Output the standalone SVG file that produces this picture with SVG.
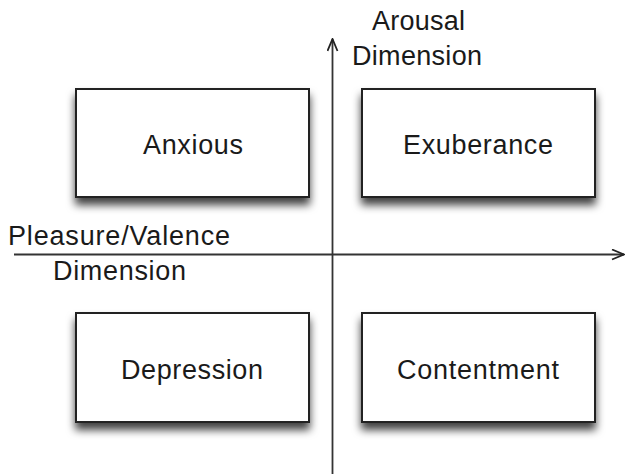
<svg xmlns="http://www.w3.org/2000/svg" width="626" height="474" viewBox="0 0 626 474">
  <defs>
    <filter id="shadow" x="-10%" y="-10%" width="120%" height="140%">
      <feDropShadow dx="0" dy="7" stdDeviation="4.5" flood-color="#000" flood-opacity="0.75"/>
    </filter>
    <marker id="open-arrow" viewBox="0 0 14 12" refX="13" refY="6" markerWidth="14" markerHeight="12" markerUnits="userSpaceOnUse" orient="auto">
      <path d="M1,1 L13,6 L1,11" fill="none" stroke="#222" stroke-width="1.8"/>
    </marker>
  </defs>
  <style>
    .box { fill: #fff; stroke: #222; stroke-width: 2; filter: url(#shadow); }
    .label { font-family: "Liberation Sans", Arial, sans-serif; font-size: 27px; fill: #1a1a1a; }
    .axis { stroke: #333; stroke-width: 1.8; fill: none; marker-end: url(#open-arrow); }
  </style>
  <rect width="626" height="474" fill="#fff"/>

  <g id="connectors">
    <line class="axis" x1="332.5" y1="474" x2="332.5" y2="39"/>
    <line class="axis" x1="14" y1="254.5" x2="624" y2="254.5"/>
  </g>

  <g id="axis-labels">
    <text class="label" x="372" y="30" textLength="93" lengthAdjust="spacing">Arousal</text>
    <text class="label" x="352" y="65" textLength="130" lengthAdjust="spacing">Dimension</text>
    <text class="label" x="8" y="245" textLength="222" lengthAdjust="spacing">Pleasure/Valence</text>
    <text class="label" x="53" y="280" textLength="133" lengthAdjust="spacing">Dimension</text>
  </g>

  <g id="anxious">
    <rect class="box" x="76" y="89" width="233" height="108"/>
    <text class="label" x="143" y="154" textLength="100" lengthAdjust="spacing">Anxious</text>
  </g>
  <g id="exuberance">
    <rect class="box" x="362" y="89" width="233" height="108"/>
    <text class="label" x="403" y="154" textLength="150" lengthAdjust="spacing">Exuberance</text>
  </g>
  <g id="depression">
    <rect class="box" x="76" y="313" width="233" height="109"/>
    <text class="label" x="121" y="379" textLength="142" lengthAdjust="spacing">Depression</text>
  </g>
  <g id="contentment">
    <rect class="box" x="362" y="313" width="233" height="109"/>
    <text class="label" x="397" y="379" textLength="162" lengthAdjust="spacing">Contentment</text>
  </g>
</svg>
